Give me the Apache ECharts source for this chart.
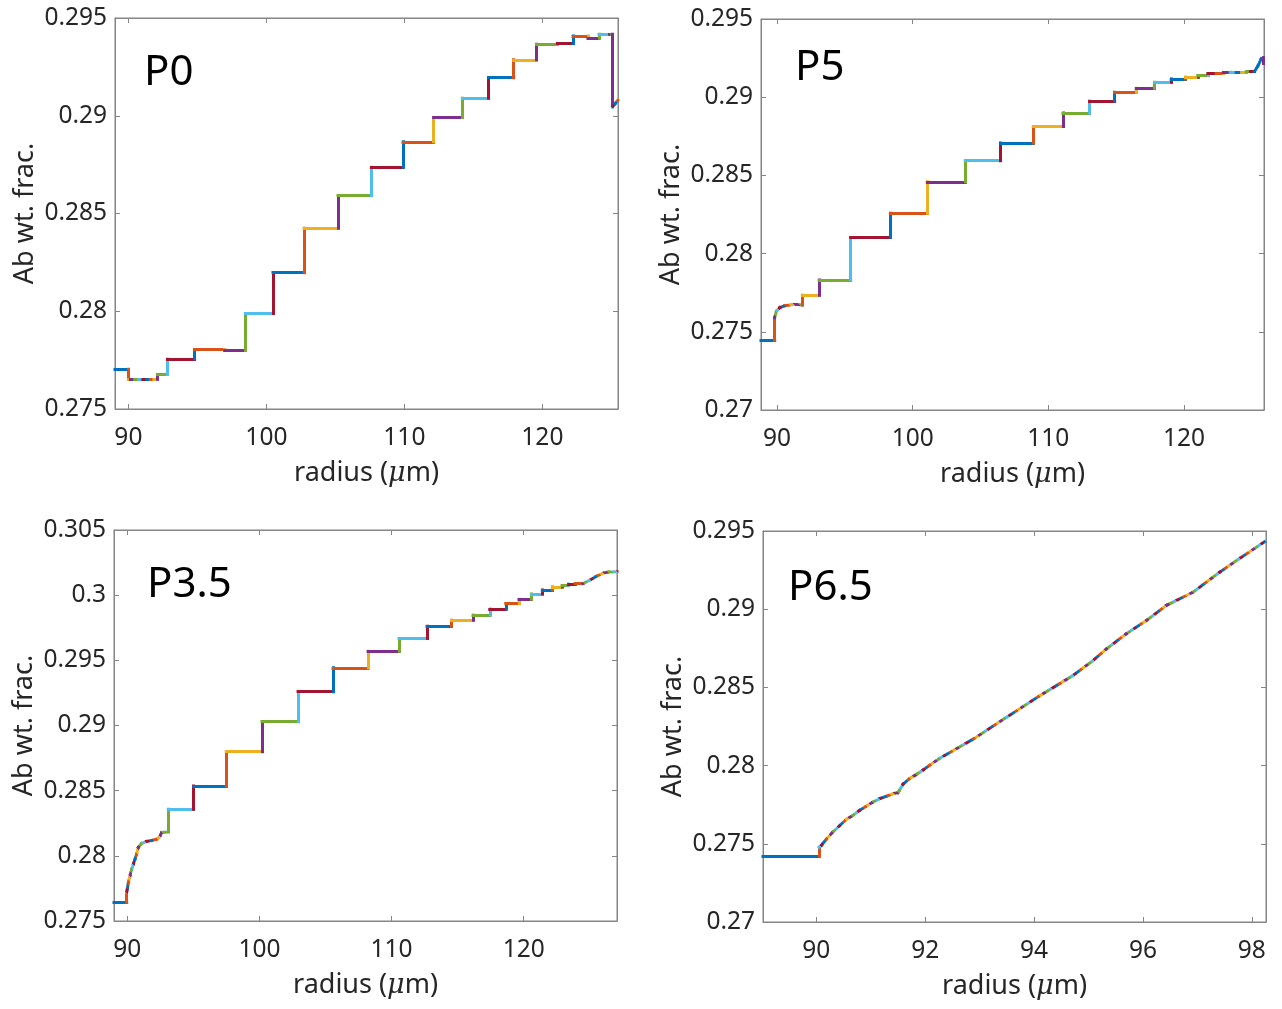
<!DOCTYPE html>
<html>
<head>
<meta charset="utf-8">
<title>Ab wt. frac. vs radius</title>
<script src="https://cdn.jsdelivr.net/npm/echarts@6/dist/echarts.min.js"></script>
<style>
    html, body { margin: 0; padding: 0; background: #fff; }
    #main { width: 1282px; height: 1009px; }
</style>
</head>
<body>
<div id="main"></div>
<script>
    // MATLAB default colour order, every plotted piece takes the next one
    const colorOrder = ['#0072BD', '#D95319', '#EDB120', '#7E2F8E', '#77AC30', '#4DBEEE', '#A2142F'];

    const panelNames = ['P0', 'P5', 'P3.5', 'P6.5'];

    // [radius (um), Ab wt. frac.] vertices
    const p0Points = [
        [89.03, 0.27703], [90.00, 0.27703], [90.00, 0.27652], [90.15, 0.27652], [90.45, 0.27652],
        [90.75, 0.27652], [91.05, 0.27652], [91.35, 0.27652], [91.60, 0.27652], [91.85, 0.27652],
        [92.10, 0.27652], [92.10, 0.27677], [92.83, 0.27677], [92.83, 0.27756], [94.80, 0.27756],
        [94.80, 0.27804], [96.98, 0.27804], [96.98, 0.27799], [98.48, 0.27799], [98.48, 0.27988],
        [100.48, 0.27988], [100.48, 0.28197], [102.73, 0.28197], [102.73, 0.28425], [105.19, 0.28425],
        [105.19, 0.28592], [107.61, 0.28592], [107.61, 0.28736], [109.90, 0.28736], [109.90, 0.28867],
        [112.12, 0.28867], [112.12, 0.28991], [114.20, 0.28991], [114.20, 0.29090], [116.11, 0.29090],
        [116.11, 0.29195], [117.92, 0.29195], [117.92, 0.29286], [119.57, 0.29286], [119.57, 0.29366],
        [121.09, 0.29366], [121.09, 0.29370], [122.22, 0.29370], [122.22, 0.29408], [123.30, 0.29408],
        [123.30, 0.29396], [124.10, 0.29396], [124.10, 0.29417], [124.88, 0.29417], [124.92, 0.29417],
        [125.03, 0.29417], [125.05, 0.29417], [125.07, 0.29417], [125.07, 0.29046], [125.25, 0.29060],
        [125.48, 0.29080]
    ];
    const p5Points = [
        [88.82, 0.27446], [89.83, 0.27446], [89.83, 0.27590], [89.96, 0.27632], [90.20, 0.27654],
        [90.57, 0.27667], [91.06, 0.27673], [91.55, 0.27675], [91.87, 0.27671], [91.87, 0.27733],
        [93.10, 0.27733], [93.10, 0.27831], [95.43, 0.27831], [95.43, 0.28103], [98.36, 0.28103],
        [98.36, 0.28258], [101.08, 0.28258], [101.08, 0.28459], [103.88, 0.28459], [103.88, 0.28594],
        [106.49, 0.28594], [106.49, 0.28707], [108.89, 0.28707], [108.89, 0.28812], [111.08, 0.28812],
        [111.08, 0.28899], [113.04, 0.28899], [113.04, 0.28976], [114.89, 0.28976], [114.89, 0.29032],
        [116.48, 0.29032], [116.48, 0.29058], [117.83, 0.29058], [117.83, 0.29096], [119.06, 0.29096],
        [119.06, 0.29117], [120.12, 0.29117], [120.12, 0.29128], [121.02, 0.29128], [121.02, 0.29138],
        [121.76, 0.29138], [121.76, 0.29151], [122.38, 0.29151], [122.38, 0.29153], [122.90, 0.29153],
        [122.90, 0.29158], [123.41, 0.29158], [123.41, 0.29160], [123.85, 0.29160], [123.85, 0.29161],
        [124.25, 0.29161], [124.25, 0.29162], [124.60, 0.29162], [124.60, 0.29163], [124.90, 0.29163],
        [124.90, 0.29164], [125.20, 0.29164], [125.45, 0.29200], [125.70, 0.29246], [125.82, 0.29252],
        [125.82, 0.29215]
    ];
    const p35Points = [
        [88.99, 0.27643], [89.95, 0.27643], [89.95, 0.27720], [90.00, 0.27745], [90.08, 0.27796],
        [90.20, 0.27847], [90.33, 0.27898], [90.45, 0.27936], [90.58, 0.27975], [90.70, 0.28013],
        [90.83, 0.28064], [91.08, 0.28095], [91.46, 0.28110], [91.84, 0.28118], [92.22, 0.28128],
        [92.35, 0.28138], [92.47, 0.28153], [92.60, 0.28179], [93.10, 0.28184], [93.10, 0.28358],
        [95.02, 0.28358], [95.02, 0.28536], [97.49, 0.28536], [97.49, 0.28799], [100.19, 0.28799],
        [100.19, 0.29029], [102.92, 0.29029], [102.92, 0.29259], [105.57, 0.29259], [105.57, 0.29443],
        [108.22, 0.29443], [108.22, 0.29570], [110.56, 0.29570], [110.56, 0.29667], [112.68, 0.29667],
        [112.68, 0.29761], [114.53, 0.29761], [114.53, 0.29807], [116.16, 0.29807], [116.16, 0.29845],
        [117.43, 0.29845], [117.43, 0.29894], [118.64, 0.29894], [118.64, 0.29935], [119.64, 0.29935],
        [119.64, 0.29968], [120.58, 0.29968], [120.58, 0.30009], [121.41, 0.30009], [121.41, 0.30040],
        [122.17, 0.30040], [122.17, 0.30063], [122.90, 0.30063], [122.90, 0.30075], [123.40, 0.30075],
        [123.40, 0.30086], [123.90, 0.30086], [123.90, 0.30089], [124.49, 0.30089], [125.00, 0.30115],
        [125.50, 0.30145], [126.00, 0.30168], [126.40, 0.30178], [127.06, 0.30180]
    ];
    const p65Points = [
        [89.02, 0.27421], [90.05, 0.27421], [90.05, 0.27478], [90.09, 0.27489], [90.18, 0.27528],
        [90.30, 0.27574], [90.43, 0.27617], [90.55, 0.27656], [90.67, 0.27681], [90.80, 0.27715],
        [90.92, 0.27741], [91.04, 0.27767], [91.16, 0.27788], [91.29, 0.27805], [91.41, 0.27820],
        [91.50, 0.27827], [91.53, 0.27844], [91.59, 0.27880], [91.71, 0.27917], [91.84, 0.27944],
        [91.96, 0.27972], [92.08, 0.28002], [92.26, 0.28045], [92.88, 0.28169], [93.49, 0.28308],
        [94.10, 0.28446], [94.71, 0.28575], [95.08, 0.28671], [95.33, 0.28746], [95.69, 0.28842],
        [96.06, 0.28927], [96.43, 0.29024], [96.92, 0.29109], [97.41, 0.29237], [97.77, 0.29323],
        [98.23, 0.29430]
    ];
    const panelPoints = [p0Points, p5Points, p35Points, p65Points];

    // axis extents and tick values
    const xMin = [89.03, 88.82, 88.99, 89.02];
    const xMax = [125.48, 125.9, 127.06, 98.26];
    const yMin = [0.275, 0.27, 0.275, 0.27];
    const yMax = [0.295, 0.295, 0.305, 0.295];
    const xTickValues = [
        [90, 100, 110, 120],
        [90, 100, 110, 120],
        [90, 100, 110, 120],
        [90, 92, 94, 96, 98]
    ];
    const yTickValues = [
        [0.275, 0.28, 0.285, 0.29, 0.295],
        [0.27, 0.275, 0.28, 0.285, 0.29, 0.295],
        [0.275, 0.28, 0.285, 0.29, 0.295, 0.3, 0.305],
        [0.27, 0.275, 0.28, 0.285, 0.29, 0.295]
    ];

    // layout (pixels)
    const gridBoxes = [
        { left: 115, top: 18, width: 503, height: 391 },
        { left: 761, top: 19, width: 503, height: 391 },
        { left: 114, top: 530, width: 503, height: 391 },
        { left: 763, top: 531, width: 503, height: 391 }
    ];
    const labelPos = [[144, 73], [795, 68], [147, 585], [788, 588]];

    const axisColor = '#858585';
    const textColor = '#262626';
    const fontFamily = '"Noto Sans", "DejaVu Sans", sans-serif';
    const tickFont = 24.5;
    const nameFont = 27;

    // finely banded colour for the densely sampled (sloped) parts of the curves
    const bandCount = 400;
    const bandStops = [];
    for (let i = 0; i < bandCount; i++) {
        const c = colorOrder[i % colorOrder.length];
        bandStops.push({ offset: i / bandCount, color: c });
        bandStops.push({ offset: (i + 1) / bandCount, color: c });
    }
    const bandGradient = {
        type: 'linear', x: 0, y: 1009, x2: 1009, y2: 0, global: true,
        colorStops: bandStops
    };

    const fmt = v => String(+v.toFixed(4));

    const grids = [];
    const xAxes = [];
    const yAxes = [];
    const series = [];
    const graphics = [];

    panelPoints.forEach((pts, k) => {
        grids.push(Object.assign({
            show: true, borderColor: axisColor, borderWidth: 1,
            backgroundColor: '#fff', containLabel: false, outerBoundsMode: 'none'
        }, gridBoxes[k]));

        const tickStyle = { show: true, inside: true, length: 5, lineStyle: { color: axisColor, width: 1 } };

        xAxes.push({
            type: 'value', gridIndex: k, position: 'bottom', min: xMin[k], max: xMax[k],
            axisLine: { show: true, onZero: false, lineStyle: { color: axisColor, width: 1 } },
            axisTick: Object.assign({ customValues: xTickValues[k] }, tickStyle),
            axisLabel: {
                customValues: xTickValues[k], formatter: fmt, margin: 17,
                color: textColor, fontSize: tickFont, fontFamily: fontFamily
            },
            splitLine: { show: false },
            name: 'radius ({mu|μ}m)', nameLocation: 'middle', nameGap: 51,
            nameTextStyle: {
                color: textColor, fontSize: nameFont, fontFamily: fontFamily,
                rich: { mu: { fontSize: nameFont, fontStyle: 'italic', fontFamily: '"DejaVu Serif", serif', color: textColor } }
            }
        });
        xAxes.push({
            type: 'value', gridIndex: k, position: 'top', min: xMin[k], max: xMax[k],
            axisLine: { show: true, onZero: false, lineStyle: { color: axisColor, width: 1 } },
            axisTick: Object.assign({ customValues: xTickValues[k] }, tickStyle),
            axisLabel: { show: false }, splitLine: { show: false }
        });
        yAxes.push({
            type: 'value', gridIndex: k, position: 'left', min: yMin[k], max: yMax[k],
            axisLine: { show: true, onZero: false, lineStyle: { color: axisColor, width: 1 } },
            axisTick: Object.assign({ customValues: yTickValues[k] }, tickStyle),
            axisLabel: {
                customValues: yTickValues[k], formatter: fmt, margin: 8, padding: [5, 0, 0, 0],
                color: textColor, fontSize: tickFont, fontFamily: fontFamily
            },
            splitLine: { show: false },
            name: 'Ab wt. frac.', nameLocation: 'middle', nameGap: 76,
            nameTextStyle: { color: textColor, fontSize: nameFont, fontFamily: fontFamily }
        });
        yAxes.push({
            type: 'value', gridIndex: k, position: 'right', min: yMin[k], max: yMax[k],
            axisLine: { show: true, onZero: false, lineStyle: { color: axisColor, width: 1 } },
            axisTick: Object.assign({ customValues: yTickValues[k] }, tickStyle),
            axisLabel: { show: false }, splitLine: { show: false }
        });

        // every piece between two vertices is its own line, coloured in turn
        const pieces = [];
        for (let i = 0; i < pts.length - 1; i++) {
            const a = pts[i], b = pts[i + 1];
            const straight = a[0] === b[0] || a[1] === b[1];
            pieces.push({
                coords: [a, b],
                lineStyle: { color: straight ? colorOrder[i % colorOrder.length] : bandGradient }
            });
        }
        series.push({
            type: 'lines', coordinateSystem: 'cartesian2d',
            xAxisIndex: 2 * k, yAxisIndex: 2 * k,
            polyline: false, silent: true, z: 3,
            lineStyle: { width: 3, opacity: 1, curveness: 0, cap: 'square' },
            data: pieces
        });

        graphics.push({
            type: 'text', x: labelPos[k][0], y: labelPos[k][1], z: 10,
            style: {
                text: panelNames[k], fill: '#000', fontSize: 42,
                fontFamily: fontFamily, verticalAlign: 'middle'
            }
        });
    });

    const chart = echarts.init(document.getElementById('main'), null, { renderer: 'canvas' });
    chart.setOption({
        animation: false,
        backgroundColor: '#fff',
        grid: grids,
        xAxis: xAxes,
        yAxis: yAxes,
        series: series,
        graphic: graphics
    });
</script>
</body>
</html>
